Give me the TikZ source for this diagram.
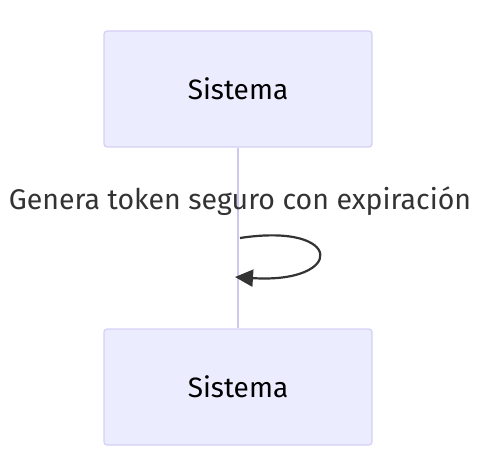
\documentclass[tikz,border=0pt]{standalone}
\usepackage{fontspec}
\setmainfont{Fira Sans}
\usetikzlibrary{arrows.meta}
\definecolor{actorfill}{HTML}{ECECFF}
\definecolor{actorline}{HTML}{D4D0F5}
\definecolor{lifeline}{HTML}{CCC8F0}
\definecolor{msgtext}{HTML}{333333}
\begin{document}
\begin{tikzpicture}[x=1pt, y=-1pt]
            \useasboundingbox (0,0) rectangle (487,454);
            \node[draw=actorline, fill=actorfill, rounded corners=3pt, line width=1.2pt, minimum width=268pt, minimum height=116pt, font=\fontsize{28}{32}\selectfont] (top) at (238,89) {Sistema};
            \node[draw=actorline, fill=actorfill, rounded corners=3pt, line width=1.2pt, minimum width=268pt, minimum height=116pt, font=\fontsize{28}{32}\selectfont] (bot) at (238,387) {Sistema};
            \draw[lifeline, line width=2.4pt] (top) -- (bot);
            \node[text=msgtext, font=\fontsize{28.5}{32}\selectfont] (msg) at (240,201) {Genera token seguro con expiración};
            \coordinate (from) at (240,238);
            \coordinate (to) at (235,277);
            \draw[msgtext, line width=2.2pt, -{Triangle[length=18pt, width=17pt]}] (from) .. controls (345,222) and (345,284) .. (to);
        \end{tikzpicture}
\end{document}
